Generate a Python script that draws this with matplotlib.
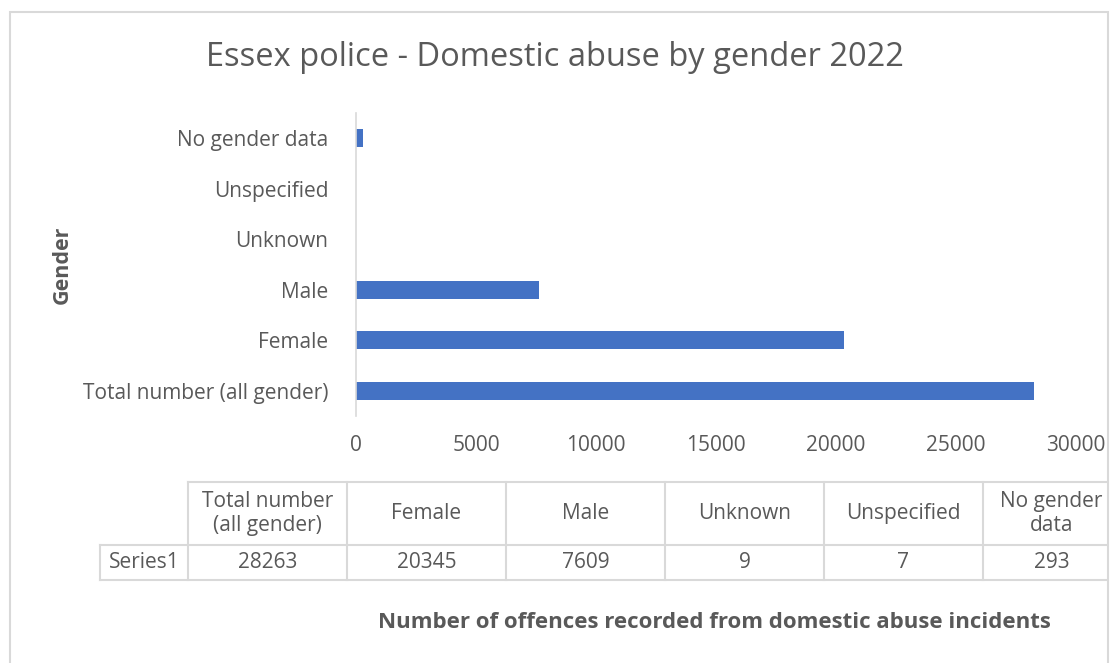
import matplotlib.pyplot as plt
from matplotlib.lines import Line2D
from matplotlib.patches import Rectangle

# Data
categories = ["Total number (all gender)", "Female", "Male", "Unknown", "Unspecified", "No gender data"]
table_headers = ["Total number\n(all gender)", "Female", "Male", "Unknown", "Unspecified", "No gender\ndata"]
offences = [28263, 20345, 7609, 9, 7, 293]
series_name = "Series1"
x_ticks = [0, 5000, 10000, 15000, 20000, 25000, 30000]

W, H = 1111, 663
BAR = "#4472C4"
TXT = "#595959"
GRID = "#D9D9D9"
FONT = "Open Sans"

plt.rcParams["font.family"] = [FONT, "DejaVu Sans"]


def fx(x):
    return x / W


def fy(y):
    return 1 - y / H


fig = plt.figure(figsize=(W / 100, H / 100), dpi=100)
fig.patch.set_facecolor("white")

ax = fig.add_axes([fx(356), fy(416), fx(1076) - fx(356), fy(113) - fy(416)])
y = range(len(categories))
ax.barh(y, offences, height=0.35, color=BAR)
ax.set_xlim(0, 30000)
ax.set_ylim(-0.5, len(categories) - 0.5)
ax.set_yticks(list(y))
ax.set_yticklabels(categories, fontsize=15, color=TXT)
ax.set_xticks(x_ticks)
ax.set_xticklabels([str(t) for t in x_ticks], fontsize=15, color=TXT)
ax.tick_params(axis="both", length=0)
ax.tick_params(axis="y", pad=20)
ax.tick_params(axis="x", pad=14)
for s in ["top", "right", "bottom"]:
    ax.spines[s].set_visible(False)
ax.spines["left"].set_color(GRID)
ax.spines["left"].set_linewidth(1.2)

fig.text(fx(555), fy(57), "Essex police - Domestic abuse by gender 2022",
         ha="center", va="center", fontsize=23.5, color=TXT)
fig.text(fx(62), fy(265), "Gender", rotation=90, ha="center", va="center",
         fontsize=15.5, fontweight="bold", color=TXT)
fig.text(fx(714), fy(622), "Number of offences recorded from domestic abuse incidents",
         ha="center", va="center", fontsize=16, fontweight="bold", color=TXT)

# data table under the chart
col_edges = [188 + 159 * i for i in range(len(categories) + 1)]
top, mid, bot = 482, 545, 580
right_edge = 1108


def hline(y0, x0, x1):
    fig.add_artist(Line2D([fx(x0), fx(x1)], [fy(y0), fy(y0)], transform=fig.transFigure,
                          color=GRID, linewidth=1.5))


def vline(x0, y0, y1):
    fig.add_artist(Line2D([fx(x0), fx(x0)], [fy(y0), fy(y1)], transform=fig.transFigure,
                          color=GRID, linewidth=1.5))


hline(top, 188, right_edge)
hline(mid, 100, right_edge)
hline(bot, 100, right_edge)
vline(100, mid, bot)
for xe in col_edges[:-1]:
    vline(xe, top, bot)

fig.text(fx(144), fy((mid + bot) / 2), series_name, ha="center", va="center",
         fontsize=15, color=TXT)
for i, (hdr, val) in enumerate(zip(table_headers, offences)):
    # the last column is cut by the chart border; centre its text in the visible part
    cx = (col_edges[i] + min(col_edges[i + 1], right_edge + 12)) / 2
    fig.text(fx(cx), fy((top + mid) / 2), hdr, ha="center", va="center",
             fontsize=15, color=TXT, linespacing=1.2)
    fig.text(fx(cx), fy((mid + bot) / 2), str(val), ha="center", va="center",
             fontsize=15, color=TXT)

# chart area border, with anything past its right edge cut off
fig.add_artist(Rectangle((fx(right_edge), 0), fx(10), 1, transform=fig.transFigure,
                         facecolor="white", edgecolor="none", zorder=10))
fig.add_artist(Rectangle((fx(10), fy(700)), fx(right_edge) - fx(10), fy(12) - fy(700),
                         transform=fig.transFigure, fill=False,
                         edgecolor=GRID, linewidth=1.5, zorder=11))

fig.savefig("out.png", dpi=100)
